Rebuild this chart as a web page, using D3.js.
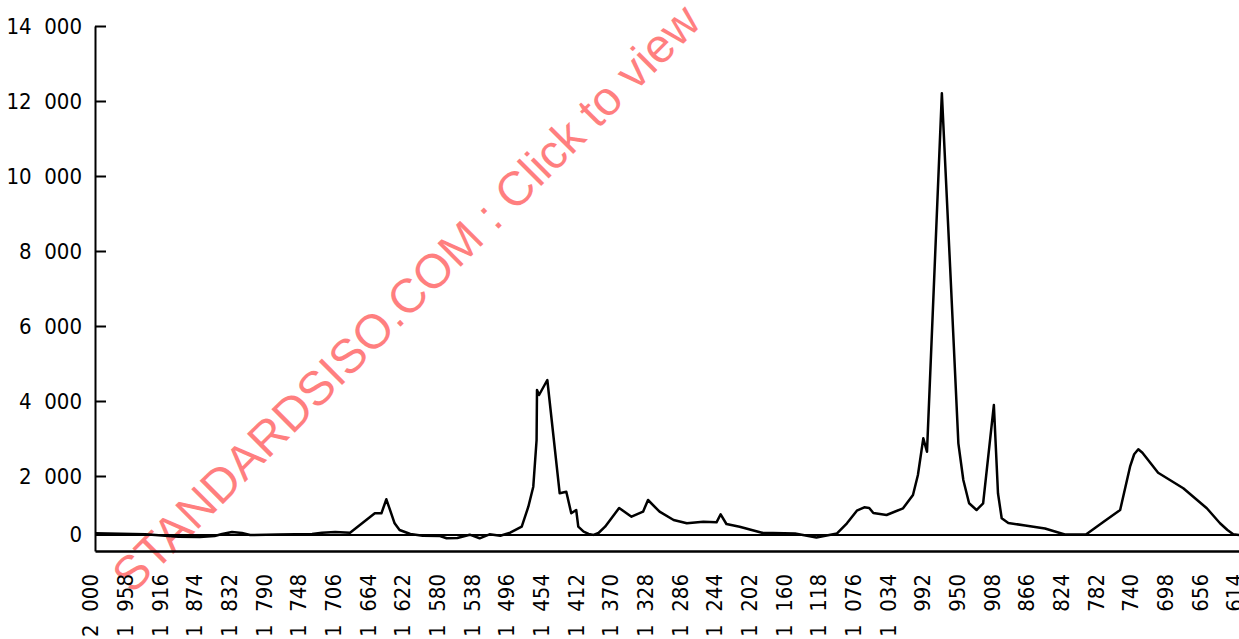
<!DOCTYPE html>
<html>
<head>
<meta charset="utf-8">
<script src="https://cdn.jsdelivr.net/npm/d3@7"></script>
<style>
  body { margin: 0; background: #fff; }
</style>
</head>
<body>
<div id="chart"></div>
<script>
// spectrum: wavenumber (cm-1) and intensity on the printed axis
const wavenumbers = [
  2000, 1939, 1899, 1873, 1855, 1846, 1834, 1822, 1812, 1778,
  1737, 1725, 1709, 1691, 1661, 1653, 1647, 1637, 1631, 1618,
  1603, 1582, 1574, 1561, 1546, 1534, 1522, 1509, 1497, 1483,
  1475, 1469, 1465, 1464.5, 1462, 1452, 1437, 1429, 1423, 1417,
  1414.5, 1408, 1402, 1396, 1390, 1382, 1365, 1350, 1336, 1330,
  1316, 1299, 1283, 1263, 1247, 1242, 1235, 1219, 1192, 1152,
  1126, 1101, 1089, 1077, 1068, 1062, 1057, 1041, 1021, 1009,
  1003, 996.5, 992, 974, 964, 954, 948, 941, 932, 924,
  911, 906, 901.5, 893.5, 873, 849, 825, 799, 778, 758,
  746, 741, 736, 731, 712, 681.5, 653, 637, 628, 621,
  614
];
const intensity = [
  472, 445, 381, 373, 400, 453, 507, 480, 427, 440,
  453, 488, 507, 488, 1005, 1005, 1379, 739, 560, 453,
  408, 400, 339, 347, 435, 339, 445, 408, 488, 648,
  1181, 1715, 2960, 4293, 4160, 4560, 1539, 1581, 1005, 1093,
  648, 515, 455, 430, 480, 648, 1147, 915, 1048, 1360,
  1048, 827, 739, 781, 765, 979, 720, 648, 488, 467,
  360, 467, 739, 1075, 1165, 1147, 1013, 960, 1139, 1493,
  2027, 3005, 2648, 12205, 7581, 2872, 1893, 1272, 1093, 1272,
  3893, 1539, 872, 747, 680, 600, 440, 445, 781, 1093,
  2248, 2580, 2712, 2620, 2088, 1672, 1139, 739, 560, 445,
  427
];
const zeroLevel = 427; // the line labelled "0"

const xTicks = [
  2000, 1958, 1916, 1874, 1832, 1790, 1748, 1706, 1664, 1622,
  1580, 1538, 1496, 1454, 1412, 1370, 1328, 1286, 1244, 1202,
  1160, 1118, 1076, 1034, 992, 950, 908, 866, 824, 782,
  740, 698, 656, 614
];
const yTicks = [2000, 4000, 6000, 8000, 10000, 12000, 14000];

const watermark = "STANDARDSISO.COM : Click to view";

const width = 1239;
const height = 639;
const plot = { left: 95, right: 1239, top: 26, bottom: 551 };
const font = "'DejaVu Sans Condensed', 'DejaVu Sans', sans-serif";

// "14 000" style labels, gap between thousands
const fmt = d => {
    if (d < 1000) return String(d);
    const rest = String(d % 1000).padStart(3, "0");
    return Math.floor(d / 1000) + "\u00a0\u00a0" + rest;
};

const data = wavenumbers.map((w, i) => ({ w: w, v: intensity[i] }));

const svg = d3.select("#chart")
    .append("svg")
    .attr("width", width)
    .attr("height", height)
    .style("display", "block");

const x = d3.scaleLinear()
    .domain([2000, 614])
    .range([plot.left, plot.right]);

const y = d3.scaleLinear()
    .domain([0, 14000])
    .range([plot.bottom, plot.top]);

// watermark underneath everything
svg.append("text")
    .attr("transform", "translate(406,298) rotate(-45)")
    .attr("text-anchor", "middle")
    .attr("dominant-baseline", "central")
    .style("font-family", "'Liberation Sans', Arial, sans-serif")
    .style("font-size", "48px")
    .attr("fill", "#ff0000")
    .attr("fill-opacity", 0.5)
    .text(watermark);

// y axis, ticks point into the plot
const yAxis = svg.append("g")
    .attr("transform", `translate(${plot.left},0)`)
    .call(d3.axisLeft(y)
        .tickValues(yTicks)
        .tickSizeInner(-11)
        .tickSizeOuter(0)
        .tickPadding(13)
        .tickFormat(fmt));

yAxis.selectAll("path, line")
    .attr("stroke", "#000")
    .attr("stroke-width", 2);
yAxis.selectAll("text")
    .style("font-family", font)
    .style("font-size", "22px")
    .attr("fill", "#000");

// bottom axis, rotated labels only
const xAxis = svg.append("g")
    .attr("transform", `translate(0,${plot.bottom})`)
    .call(d3.axisBottom(x)
        .tickValues(xTicks)
        .tickSize(0)
        .tickFormat(fmt));

xAxis.select(".domain")
    .attr("stroke", "#000")
    .attr("stroke-width", 2.5);
xAxis.selectAll("text")
    .attr("transform", "rotate(-90)")
    .attr("x", -23)
    .attr("y", -5)
    .attr("dy", "0.35em")
    .style("text-anchor", "end")
    .style("font-family", font)
    .style("font-size", "22px")
    .attr("fill", "#000");

// the zero line and its label
svg.append("line")
    .attr("x1", plot.left)
    .attr("x2", plot.right)
    .attr("y1", y(zeroLevel))
    .attr("y2", y(zeroLevel))
    .attr("stroke", "#000")
    .attr("stroke-width", 2);

svg.append("text")
    .attr("x", plot.left - 13)
    .attr("y", y(zeroLevel))
    .attr("dy", "0.32em")
    .attr("text-anchor", "end")
    .style("font-family", font)
    .style("font-size", "22px")
    .text("0");

const line = d3.line()
    .x(d => x(d.w))
    .y(d => y(d.v));

svg.append("path")
    .datum(data)
    .attr("d", line)
    .attr("fill", "none")
    .attr("stroke", "#000")
    .attr("stroke-width", 2.5)
    .attr("stroke-linejoin", "round");
</script>
</body>
</html>
